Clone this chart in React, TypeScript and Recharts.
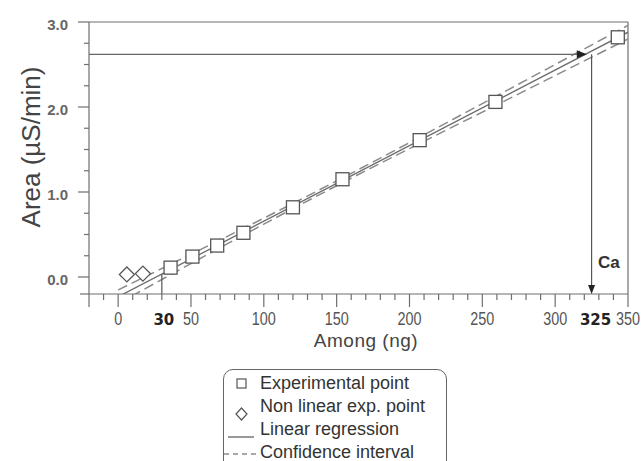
import React from "react";
import {
  ComposedChart, Line, Scatter, XAxis, YAxis, ReferenceLine,
} from "recharts";

// values
const expX = [36, 51, 68, 86, 120, 154, 207, 259, 343];
const expY = [0.11, 0.24, 0.37, 0.52, 0.82, 1.15, 1.61, 2.06, 2.82];
const nonLinX = [6, 17];
const nonLinY = [0.03, 0.04];
const regX = [0, 350];
const regY = [-0.232, 2.88];
const bandX = [0, 50, 100, 150, 200, 250, 300, 350];
const upperY = [-0.152, 0.268, 0.692, 1.13, 1.581, 2.04, 2.5, 2.96];
const lowerY = [-0.312, 0.158, 0.622, 1.074, 1.511, 1.94, 2.37, 2.8];
const loqX = [30, 30];
const loqY = [-0.2, 0.035];
const readX = [-20, 318];
const readY = [2.62, 2.62];
const dropX = [325, 325];
const dropY = [2.62, -0.14];
const rightHead = [{ x: 319, y: 2.62 }];
const downHead = [{ x: 325, y: -0.14 }];

const xTicks = [-20, -10, 0, 10, 20, 30, 40, 50, 60, 70, 80, 90, 100, 110, 120, 130, 140, 150, 160, 170,
  180, 190, 200, 210, 220, 230, 240, 250, 260, 270, 280, 290, 300, 310, 320, 325, 330, 340, 350];
const xLabels = [0, 50, 100, 150, 200, 250, 300, 350];
const boldLabels = [30, 325];
const yTicks = [-0.2, 0, 0.25, 0.5, 0.75, 1, 1.25, 1.5, 1.75, 2, 2.25, 2.5, 2.75, 3];
const yLabels = [0, 1, 2, 3];

const legendRows = ["Experimental point", "Non linear exp. point", "Linear regression", "Confidence interval"];

const zip = (xs: number[], ys: number[]) => xs.map((x, i) => ({ x, y: ys[i] }));

const AXIS = "#6f6f6f";
const SANS = "'Liberation Sans', Arial, sans-serif";

function XTick(props: any) {
  const { x, y, payload } = props;
  const v = payload.value;
  const major = v % 50 === 0 || v === -20;
  const len = v === 325 ? 0 : major ? 13 : 6;
  return (
    <g>
      {len > 0 && <line x1={x} y1={y} x2={x} y2={y + len} stroke={AXIS} strokeWidth={1.2} />}
      {xLabels.includes(v) && (
        <text transform={`translate(${x},${y + 31}) scale(0.8,1)`} textAnchor="middle" fontSize={18}
          fill="#555" fontFamily={SANS}>{v}</text>
      )}
      {boldLabels.includes(v) && (
        <text x={x + (v === 325 ? 4 : 2)} y={y + 31} textAnchor="middle" fontSize={15} fontWeight="bold"
          fill="#222" fontFamily="'DejaVu Sans', sans-serif">{v}</text>
      )}
    </g>
  );
}

function YTick(props: any) {
  const { x, y, payload } = props;
  const v = payload.value;
  const major = yLabels.includes(v);
  const len = v === -0.2 ? 9 : major ? 11 : 5;
  return (
    <g>
      <line x1={x - len} y1={y} x2={x} y2={y} stroke={AXIS} strokeWidth={1.2} />
      {major && (
        <text x={x - 21} y={y + 8} textAnchor="end" fontSize={15} fontWeight="bold" fill="#666" fontFamily={SANS}>
          {v.toFixed(1)}
        </text>
      )}
    </g>
  );
}

const Square = (p: any) => (
  <rect x={p.cx - 6.5} y={p.cy - 6.5} width={13} height={13} fill="#fff" stroke="#555" strokeWidth={1.3} />
);
const Diamond = (p: any) => (
  <path d={`M${p.cx},${p.cy - 7.5}L${p.cx + 7.5},${p.cy}L${p.cx},${p.cy + 7.5}L${p.cx - 7.5},${p.cy}Z`}
    fill="#fff" stroke="#555" strokeWidth={1.3} />
);
const RightHead = (p: any) => (
  <path d={`M${p.cx + 4},${p.cy}L${p.cx - 6},${p.cy - 4}L${p.cx - 6},${p.cy + 4}Z`} fill="#222" />
);
const DownHead = (p: any) => (
  <path d={`M${p.cx},${p.cy + 5}L${p.cx - 3.5},${p.cy - 4}L${p.cx + 3.5},${p.cy - 4}Z`} fill="#222" />
);

const legendIcons = [
  <rect x={13} y={7} width={9} height={9} fill="#fff" stroke="#555" strokeWidth={1.2} />,
  <path d="M17.5,13L23,19L17.5,25L12,19Z" fill="#fff" stroke="#555" strokeWidth={1.2} />,
  <line x1={4} y1={19} x2={30} y2={19} stroke="#555" strokeWidth={1.2} />,
  <line x1={0} y1={13} x2={33} y2={13} stroke="#555" strokeWidth={1.2} strokeDasharray="5 4" />,
];

export default function App() {
  return (
    <div style={{ position: "absolute", left: 0, top: 0, width: 644, height: 461, overflow: "hidden", background: "#fff" }}>
      <ComposedChart width={644} height={461} margin={{ top: 22, right: 16, left: 0, bottom: 127 }}>
        <XAxis
          type="number" dataKey="x" domain={[-20, 350]} allowDataOverflow
          ticks={xTicks} interval={0} tick={<XTick />} tickLine={false} tickSize={0} tickMargin={0}
          height={40} axisLine={{ stroke: AXIS, strokeWidth: 1.2 }}
        />
        <YAxis
          type="number" dataKey="y" domain={[-0.2, 3]} allowDataOverflow
          ticks={yTicks} interval={0} tick={<YTick />} tickLine={false} tickSize={0} tickMargin={0}
          width={89} axisLine={{ stroke: AXIS, strokeWidth: 1.2 }}
        />
        <ReferenceLine y={3} stroke={AXIS} strokeWidth={1.2} />
        <ReferenceLine x={350} stroke={AXIS} strokeWidth={1.2} />

        <Line data={zip(bandX, upperY)} dataKey="y" type="monotone" stroke="#8a8a8a" strokeWidth={1.5}
          strokeDasharray="10 5" dot={false} isAnimationActive={false} />
        <Line data={zip(bandX, lowerY)} dataKey="y" type="monotone" stroke="#8a8a8a" strokeWidth={1.5}
          strokeDasharray="10 5" dot={false} isAnimationActive={false} />
        <Line data={zip(regX, regY)} dataKey="y" type="linear" stroke="#6a6a6a" strokeWidth={1.3}
          dot={false} isAnimationActive={false} />

        <Line data={zip(loqX, loqY)} dataKey="y" type="linear" stroke="#555" strokeWidth={1.2}
          dot={false} isAnimationActive={false} />
        <Line data={zip(readX, readY)} dataKey="y" type="linear" stroke="#666" strokeWidth={1.2}
          dot={false} isAnimationActive={false} />
        <Line data={zip(dropX, dropY)} dataKey="y" type="linear" stroke="#555" strokeWidth={1.2}
          dot={false} isAnimationActive={false} />
        <Scatter data={rightHead} dataKey="y" shape={RightHead} isAnimationActive={false} />
        <Scatter data={downHead} dataKey="y" shape={DownHead} isAnimationActive={false} />

        <Scatter data={zip(expX, expY)} dataKey="y" shape={Square} isAnimationActive={false} />
        <Scatter data={zip(nonLinX, nonLinY)} dataKey="y" shape={Diamond} isAnimationActive={false} />
      </ComposedChart>

      <div style={{
        position: "absolute", left: 31, top: 147, transform: "translate(-50%, -50%) rotate(-90deg)",
        fontFamily: SANS, fontSize: 26, color: "#444", whiteSpace: "nowrap",
      }}>Area (µS/min)</div>
      <div style={{
        position: "absolute", left: 366, top: 341, transform: "translate(-50%, -50%)",
        fontFamily: SANS, fontSize: 19, lineHeight: "20px", letterSpacing: 0.5, color: "#444", whiteSpace: "nowrap",
      }}>Among (ng)</div>
      <div style={{
        position: "absolute", left: 598, top: 253, fontFamily: SANS,
        fontSize: 17, fontWeight: "bold", color: "#333",
      }}>Ca</div>

      <div style={{
        position: "absolute", left: 223, top: 369, width: 224, height: 110, border: "1.5px solid #666",
        borderRadius: 10, boxSizing: "border-box", fontFamily: SANS, fontSize: 18, color: "#333",
      }}>
        {legendRows.map((label, i) => (
          <div key={label} style={{ position: "absolute", left: 0, top: 2 + i * 23, height: 24, whiteSpace: "nowrap" }}>
            <svg width={36} height={28} style={{ position: "absolute", left: 0, top: 0 }}>{legendIcons[i]}</svg>
            <span style={{ position: "absolute", left: 36, top: 0, lineHeight: "22px" }}>{label}</span>
          </div>
        ))}
      </div>
    </div>
  );
}
